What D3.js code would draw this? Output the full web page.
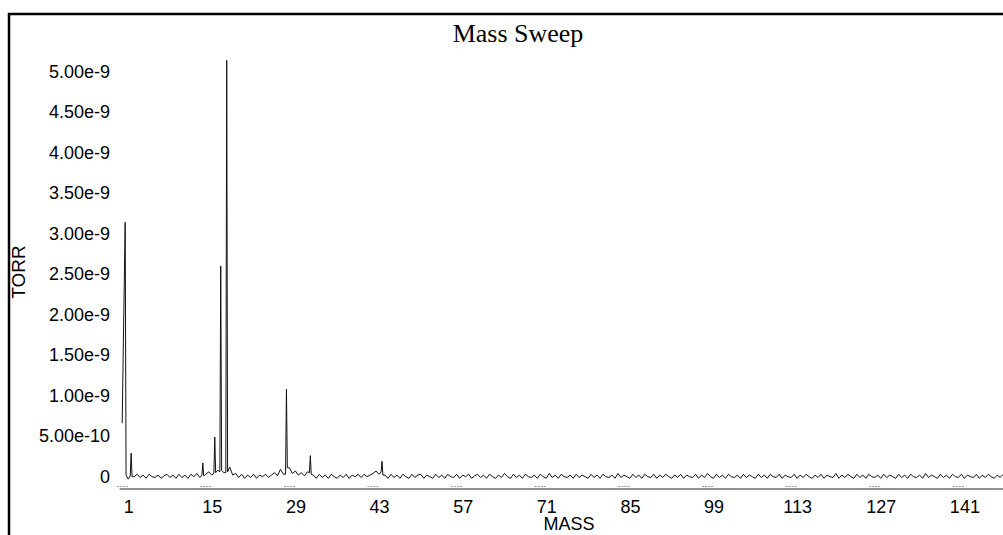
<!DOCTYPE html>
<html>
  <head>
    <meta charset="UTF-8" />
    <title>Mass Sweep</title>
    <script src="https://d3js.org/d3.v7.min.js"></script>
    <style>
      body {
        margin: 0;
        background: #fff;
      }
      .tick text {
        font-family: 'Liberation Sans', Arial, sans-serif;
        font-size: 18px;
        fill: #000;
      }
    </style>
  </head>

  <body>
    <div id="main"></div>
    <script type="text/javascript">
      const width = 1003;
      const height = 535;

      // sweep samples every half mass unit, starting at 0.5
      const sweepStart = 0.5;
      const sweepStep = 0.5;

      // background noise, in units of 1e-11 TORR (one row = 10 mass units)
      const noise = [
        0, 0, -3, 0, 0, 3, -1, 2, -2, 3, 0, -1, 2, -2, 1, 3, -1, 2, -2, 3,
        -1, 2, -2, 3, 0, 4, -1, 0, 3, 6, 2, 0, 8, 0, 5, 0, 12, 2, 4, -1,
        3, -2, 2, -1, 3, -2, 2, 0, 3, -1, 2, 5, 1, 9, 3, 0, 11, 4, 7, 2,
        5, 1, 6, 0, 2, -2, 3, -1, 2, -2, 3, 0, -2, 2, -1, 3, -2, 2, 0, 3,
        -1, 3, 0, 2, 4, 7, 3, 0, 2, -2, 3, -1, 2, -2, 3, 0, -2, 3, -1, 2,
        3, -2, 2, 0, -2, 3, -1, 2, -2, 3, 0, -1, 3, -2, 2, 0, 3, -2, 1, 3,
        -1, 2, -2, 3, 0, -2, 2, -1, 4, 0, -2, 3, -1, 2, -2, 3, 0, -1, 2, -2,
        3, 0, -2, 4, -1, 2, -2, 3, 0, -1, 2, -2, 3, -1, 2, 0, -2, 3, -1, 2,
        -2, 3, 0, -1, 2, -2, 4, -1, 2, 0, -2, 3, -1, 2, -2, 3, 0, -1, 3, -2,
        2, -1, 3, 0, -2, 2, -1, 3, -2, 2, 0, -1, 3, -2, 2, -1, 4, 0, -2, 3,
        -1, 2, -2, 3, 0, -1, 2, -2, 3, -1, 2, 0, -2, 3, -1, 2, -2, 3, 0, -1,
        3, -2, 2, 0, -1, 3, -2, 2, -1, 3, 0, -2, 2, -1, 3, -2, 2, 0, -1, 4,
        -2, 2, -1, 3, 0, -2, 3, -1, 2, -2, 3, 0, -1, 2, -2, 3, -1, 2, 0, -2,
        3, -1, 2, -2, 3, 0, -1, 2, -2, 4, -1, 2, 0, -2, 3, -1, 2, -2, 3, 0,
        -1, 3, -2, 2, 0, -1, 3, -2, 2, -1, 3, 0, -2, 2, -1, 3
      ];

      const peakMasses = [
        0.5, 1, 1.15,
        1.85, 2, 2.15,
        13.85, 14, 14.15,
        15.85, 16, 16.15,
        16.85, 17, 17.15,
        17.85, 18, 18.15,
        27.85, 28, 28.15,
        31.85, 32, 32.15,
        43.85, 44, 44.15
      ];
      const peakValues = [
        6.6e-10, 3.14e-9, 2e-11,
        1e-11, 2.9e-10, 0,
        2e-11, 1.7e-10, 1e-11,
        4e-11, 4.9e-10, 5e-11,
        6e-11, 2.6e-9, 8e-11,
        5e-11, 5.14e-9, 6e-11,
        3e-11, 1.08e-9, 1.1e-10,
        5e-11, 2.6e-10, 3e-11,
        6e-11, 1.9e-10, 2e-11
      ];

      const xTicks = [1, 15, 29, 43, 57, 71, 85, 99, 113, 127, 141];
      const yTicks = [0, 5e-10, 1e-9, 1.5e-9, 2e-9, 2.5e-9, 3e-9, 3.5e-9, 4e-9, 4.5e-9, 5e-9];
      const yTickLabels = [
        '0', '5.00e-10', '1.00e-9', '1.50e-9', '2.00e-9', '2.50e-9',
        '3.00e-9', '3.50e-9', '4.00e-9', '4.50e-9', '5.00e-9'
      ];

      // build the trace: noise samples plus the peak points, in mass order
      const trace = noise
        .map((n, i) => ({ mass: sweepStart + i * sweepStep, torr: n * 1e-11 }))
        .filter(d => peakMasses.indexOf(d.mass) < 0)
        .concat(peakMasses.map((m, i) => ({ mass: m, torr: peakValues[i] })))
        .sort((a, b) => a.mass - b.mass);

      const svg = d3
        .select('div#main')
        .append('svg')
        .attr('width', width)
        .attr('height', height)
        .style('display', 'block');

      svg.append('rect')
        .attr('width', width)
        .attr('height', height)
        .attr('fill', '#fff');

      const x = d3.scaleLinear().domain([0, 148]).range([119.2, 1003.2]);
      const y = d3.scaleLinear().domain([0, 5e-9]).range([476.7, 71.7]);

      // frame
      svg.append('rect')
        .attr('x', 9)
        .attr('y', 14)
        .attr('width', width + 20)
        .attr('height', height + 20)
        .attr('fill', 'none')
        .attr('stroke', '#000')
        .attr('stroke-width', 2.5);

      svg.append('text')
        .attr('x', 518)
        .attr('y', 42)
        .attr('text-anchor', 'middle')
        .style('font-family', "'Liberation Serif', 'Times New Roman', serif")
        .style('font-size', '26px')
        .text('Mass Sweep');

      // y axis: labels only
      const yAxis = svg.append('g')
        .attr('transform', 'translate(110,0)')
        .call(
          d3.axisLeft(y)
            .tickValues(yTicks)
            .tickFormat((d, i) => yTickLabels[i])
            .tickSize(0)
            .tickPadding(0)
        );
      yAxis.select('.domain').remove();

      // x axis
      const xAxis = svg.append('g')
        .attr('transform', 'translate(0,488.5)')
        .call(
          d3.axisBottom(x)
            .tickValues(xTicks)
            .tickFormat(d3.format('d'))
            .tickSize(0)
            .tickPadding(11.5)
        );
      xAxis.select('.domain').attr('stroke', '#222').attr('stroke-width', 1);
      xAxis.selectAll('.tick text').attr('dx', 3);
      xAxis.selectAll('.tick')
        .append('line')
        .attr('x1', -9)
        .attr('x2', 2)
        .attr('y1', -2)
        .attr('y2', -2)
        .attr('stroke', '#999')
        .attr('stroke-dasharray', '2,1');

      svg.append('text')
        .attr('x', 569)
        .attr('y', 530)
        .attr('text-anchor', 'middle')
        .style('font-family', "'Liberation Sans', Arial, sans-serif")
        .style('font-size', '18px')
        .text('MASS');

      svg.append('text')
        .attr('transform', 'translate(25,272) rotate(-90)')
        .attr('text-anchor', 'middle')
        .style('font-family', "'Liberation Sans', Arial, sans-serif")
        .style('font-size', '19px')
        .text('TORR');

      const line = d3.line()
        .x(d => x(d.mass))
        .y(d => y(d.torr));

      svg.append('path')
        .datum(trace)
        .attr('d', line)
        .attr('fill', 'none')
        .attr('stroke', '#111')
        .attr('stroke-width', 1);
    </script>
  </body>
</html>
